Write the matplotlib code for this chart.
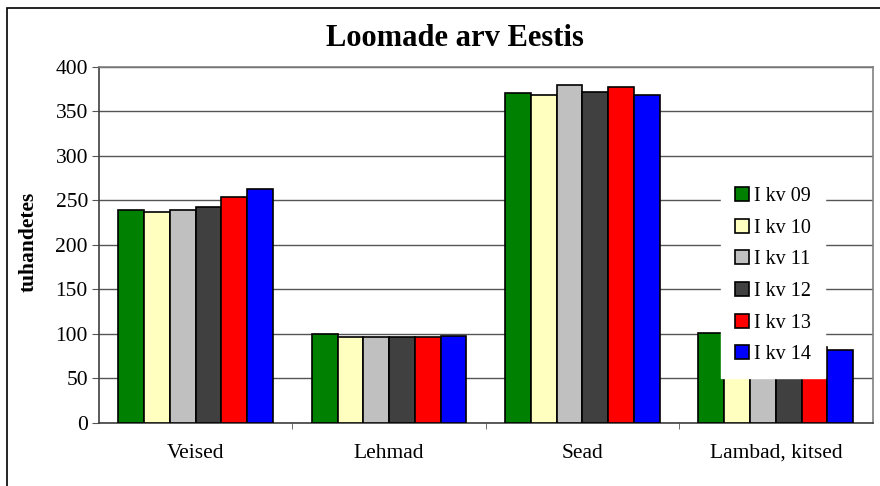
import matplotlib.pyplot as plt
import numpy as np

# andmed (tuhandetes)
kategooriad = ['Veised', 'Lehmad', 'Sead', 'Lambad, kitsed']
seeriad = ['I kv 09', 'I kv 10', 'I kv 11', 'I kv 12', 'I kv 13', 'I kv 14']
kv09 = [239, 100, 370, 101]
kv10 = [237, 96, 368, 95]
kv11 = [239, 96, 379, 88]
kv12 = [242, 96, 372, 86]
kv13 = [253, 96, 377, 85]
kv14 = [262, 98, 368, 82]
varvid = ['#008000', '#FFFFC0', '#C0C0C0', '#404040', '#FF0000', '#0000FF']

plt.rcParams['font.family'] = ['Liberation Serif', 'DejaVu Serif']

fig = plt.figure(figsize=(8.8, 4.86), dpi=100)
ax = fig.add_axes([0.1125, 0.13, 0.879, 0.733])

x = np.arange(len(kategooriad))
w = 0.8 / 6
for i, (nimi, vals) in enumerate(zip(seeriad, [kv09, kv10, kv11, kv12, kv13, kv14])):
    ax.bar(x - 0.4 + w * (i + 0.5), vals, w, color=varvid[i], edgecolor='black',
           linewidth=1.2, label=nimi, zorder=3)

ax.set_xlim(-0.5, 3.5)
ax.set_ylim(0, 400)
ax.set_yticks(range(0, 401, 50))
ax.yaxis.grid(True, color='#555555', linewidth=1, zorder=0)
ax.set_xticks(x)
ax.set_xticklabels(kategooriad, fontsize=15.5)
ax.set_xticks([0.5, 1.5, 2.5], minor=True)
ax.tick_params(axis='x', which='major', length=0, pad=15)
ax.tick_params(axis='x', which='minor', length=4, color='#555555', direction='out')
ax.tick_params(axis='y', labelsize=15.5, length=5, color='#555555', direction='out', pad=3)
for s in ax.spines.values():
    s.set_color('#808080')
    s.set_linewidth(1.2)
ax.spines['bottom'].set_color('#404040')
ax.spines['left'].set_color('#404040')

fig.text(29 / 880, 1 - 242 / 486, 'tuhandetes', rotation=90, ha='center', va='center',
         fontsize=15.5, fontweight='bold')
fig.text(455 / 880, 1 - 39 / 486, 'Loomade arv Eestis', ha='center', va='center',
         fontsize=22, fontweight='bold')

leg = ax.legend(loc='center left', bbox_to_anchor=(0.804, 0.413), frameon=True,
                fontsize=14.5, handlelength=0.7, handleheight=0.7, handletextpad=0.25,
                labelspacing=0.62, borderpad=0.7, borderaxespad=0, fancybox=False,
                framealpha=1)
leg.get_frame().set_edgecolor('white')
leg.set_zorder(5)

# välimine raam
fig.patches.append(plt.Rectangle((0.008, -0.1), 1.1, 1.084, transform=fig.transFigure,
                                 fill=False, edgecolor='black', linewidth=1.2))

fig.savefig('out.png', dpi=100)
